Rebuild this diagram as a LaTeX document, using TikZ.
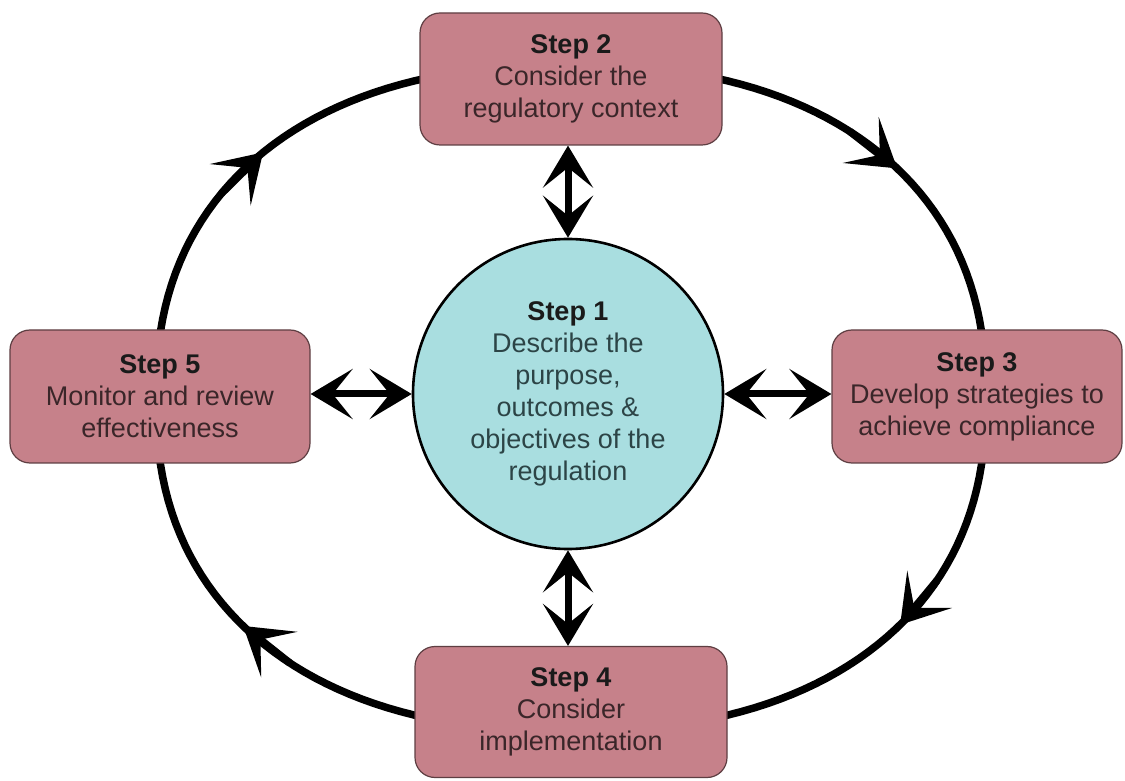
\documentclass[tikz,border=0pt]{standalone}
\usepackage{fontspec}
\setmainfont{Liberation Sans}
\usetikzlibrary{arrows.meta}
\definecolor{boxfill}{HTML}{C6818A}
\definecolor{boxline}{HTML}{5E3E42}
\definecolor{circfill}{HTML}{A9DEE0}
\definecolor{boxtext}{HTML}{3A2629}
\definecolor{circtext}{HTML}{2C4446}
\definecolor{steptext}{HTML}{1A1A1A}
\begin{document}
\begin{tikzpicture}[x=1pt,y=1pt,
  txt/.style={align=center, font=\fontsize{27}{32}\selectfont},
  stepbox/.style={txt, draw=boxline, line width=1.2pt, fill=boxfill,
    rounded corners=20pt, inner sep=0pt, text=boxtext},
  hub/.style={txt, circle, draw=black, line width=2.6pt, fill=circfill,
    minimum size=310pt, inner sep=0pt, text=circtext},
  ring/.style={line width=7.5pt, line join=round},
  ringarrow/.style={line width=7.5pt, -{Stealth[length=46pt,width=58pt,inset=24pt]}},
  dbl/.style={line width=7pt, >={Stealth[length=42pt,width=50pt,inset=20pt]}, <->}
]
\useasboundingbox (0,0) rectangle (1125,780);

% outer cycle
\draw[ring] plot[domain=1:359, samples=180]
  ({571+415*cos(\x)*abs(cos(\x))^(-0.1304)}, {382+333*sin(\x)*abs(sin(\x))^(-0.1304)}) -- cycle;

\foreach \t/\n in {50.7/a1s, 40.7/a1e, 145.2/a2s, 135.2/a2e, 230.3/a3s, 220.3/a3e, 330/a4s, 320/a4e}{
  \coordinate (\n) at ({571+415*cos(\t)*abs(cos(\t))^(-0.1304)}, {382+333*sin(\t)*abs(sin(\t))^(-0.1304)});
}
\draw[ringarrow] (a1s) -- (a1e);
\draw[ringarrow] (a2s) -- (a2e);
\draw[ringarrow] (a3s) -- (a3e);
\draw[ringarrow] (a4s) -- (a4e);

% nodes
\node[hub] (s1) at (568,386) {{\color{steptext}\textbf{Step 1}}\\Describe the\\purpose,\\outcomes \&\\objectives of the\\regulation};
\node[stepbox, minimum width=302pt, minimum height=132pt] (s2) at (571,701)
  {{\color{steptext}\textbf{Step 2}}\\Consider the\\regulatory context};
\node[stepbox, minimum width=290pt, minimum height=133pt] (s3) at (977,383.5)
  {{\color{steptext}\textbf{Step 3}}\\Develop strategies to\\achieve compliance};
\node[stepbox, minimum width=312pt, minimum height=131pt] (s4) at (571,68)
  {{\color{steptext}\textbf{Step 4}}\\Consider\\implementation};
\node[stepbox, minimum width=300pt, minimum height=133pt] (s5) at (160,383.5)
  {{\color{steptext}\textbf{Step 5}}\\Monitor and review\\effectiveness};

% double arrows
\draw[dbl] (s1.north |- s2.south) -- (s1.north);
\draw[dbl] (s1.south) -- (s1.south |- s4.north);
\draw[dbl] (s1.west -| s5.east) -- (s1.west);
\draw[dbl] (s1.east) -- (s1.east -| s3.west);
\end{tikzpicture}
\end{document}
